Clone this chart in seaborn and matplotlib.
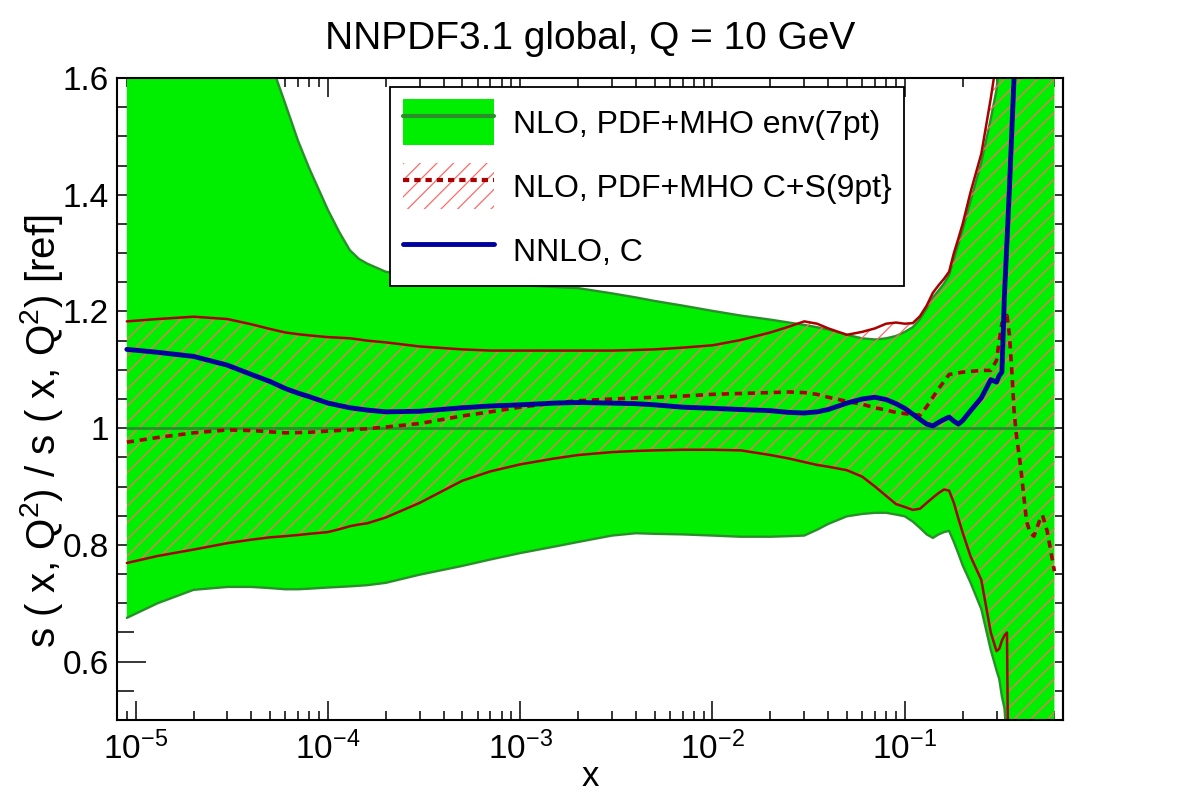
import matplotlib
matplotlib.use("Agg")
import matplotlib.pyplot as plt
import seaborn as sns
from matplotlib.patches import Patch
from matplotlib.lines import Line2D
from matplotlib.ticker import MultipleLocator, FuncFormatter

# ---- data ----
# common x grid for the two uncertainty bands
x_band = [9e-6, 1.3e-5, 2e-5, 3e-5, 4e-5, 5e-5, 6e-5, 7e-5, 8e-5, 1e-4,
          1.15e-4, 1.3e-4, 1.45e-4, 1.6e-4, 2e-4, 3e-4, 5e-4, 7e-4, 1e-3, 1.5e-3, 2e-3, 3e-3,
          4e-3, 5e-3, 7e-3, 1e-2, 1.4e-2, 2e-2, 2.5e-2, 3e-2, 3.5e-2, 4e-2,
          5e-2, 6e-2, 7e-2, 8e-2, 9e-2, 0.1, 0.11, 0.12, 0.13, 0.14,
          0.15, 0.16, 0.17, 0.18, 0.19, 0.2, 0.22, 0.25, 0.28, 0.3,
          0.31, 0.32, 0.33, 0.34, 0.35, 0.37, 0.4, 0.45, 0.5, 0.55, 0.6]

# NLO, PDF+MHO env(7pt): upper / lower edge
env_hi = [2.4, 2.2, 2.0, 1.85, 1.72, 1.63, 1.556, 1.492, 1.445, 1.374,
          1.335, 1.305, 1.29, 1.282, 1.268, 1.26, 1.253, 1.249, 1.245, 1.242, 1.24, 1.231,
          1.224, 1.218, 1.21, 1.201, 1.193, 1.186, 1.181, 1.177, 1.173, 1.169,
          1.16, 1.154, 1.152, 1.154, 1.158, 1.165, 1.173, 1.187, 1.205, 1.224,
          1.236, 1.248, 1.262, 1.29, 1.315, 1.34, 1.39, 1.455, 1.53, 1.58,
          1.63, 1.7, 1.8, 1.9, 2.0, 2.1, 2.2, 2.3, 2.4, 2.5, 2.6]
env_lo = [0.675, 0.70, 0.723, 0.728, 0.728, 0.726, 0.724, 0.724, 0.725, 0.727,
          0.728, 0.729, 0.73, 0.731, 0.735, 0.749, 0.764, 0.775, 0.786, 0.797, 0.805, 0.816,
          0.82, 0.819, 0.818, 0.816, 0.814, 0.814, 0.815, 0.816, 0.826, 0.836,
          0.849, 0.853, 0.855, 0.855, 0.852, 0.849, 0.84, 0.829, 0.818, 0.812,
          0.818, 0.822, 0.824, 0.805, 0.785, 0.765, 0.735, 0.69, 0.62, 0.585,
          0.57, 0.54, 0.52, 0.46, 0.42, 0.35, 0.3, 0.25, 0.2, 0.2, 0.2]

# NLO, PDF+MHO C+S(9pt): upper / lower edge
cs_hi = [1.183, 1.187, 1.191, 1.187, 1.178, 1.17, 1.164, 1.161, 1.159, 1.156,
         1.155, 1.154, 1.152, 1.15, 1.147, 1.14, 1.135, 1.133, 1.133, 1.133, 1.133, 1.133,
         1.134, 1.135, 1.138, 1.142, 1.151, 1.164, 1.174, 1.183, 1.179, 1.171,
         1.16, 1.165, 1.171, 1.179, 1.181, 1.179, 1.18, 1.192, 1.21, 1.232,
         1.245, 1.256, 1.268, 1.30, 1.325, 1.35, 1.405, 1.47, 1.565, 1.63,
         1.7, 1.8, 1.9, 2.0, 2.1, 2.2, 2.3, 2.4, 2.5, 2.6, 2.7]
cs_lo = [0.769, 0.781, 0.792, 0.803, 0.809, 0.813, 0.815, 0.817, 0.819, 0.822,
         0.827, 0.832, 0.835, 0.837, 0.847, 0.872, 0.91, 0.926, 0.938, 0.948, 0.954, 0.959,
         0.961, 0.962, 0.963, 0.963, 0.962, 0.954, 0.948, 0.942, 0.937, 0.934,
         0.928, 0.917, 0.9, 0.884, 0.87, 0.865, 0.86, 0.862, 0.872, 0.881,
         0.889, 0.895, 0.893, 0.872, 0.845, 0.821, 0.78, 0.74, 0.65, 0.618,
         0.622, 0.636, 0.645, 0.65, 0.2, 0.1, 0.1, 0.1, 0.1, 0.1, 0.1]

# NLO C+S(9pt) central value (dashed)
x_cs = [9e-6, 1.3e-5, 2e-5, 3e-5, 4e-5, 6e-5, 8e-5, 1e-4, 1.6e-4, 2e-4,
        3e-4, 5e-4, 7e-4, 1e-3, 1.5e-3, 2e-3, 3e-3, 5e-3, 7e-3, 1e-2,
        2e-2, 2.5e-2, 3e-2, 3.5e-2, 4e-2, 5e-2, 6e-2, 7e-2, 8e-2, 9e-2,
        0.1, 0.12, 0.13, 0.14, 0.15, 0.16, 0.17, 0.2, 0.25, 0.28, 0.3,
        0.31, 0.32, 0.34, 0.35, 0.36, 0.37, 0.38, 0.4, 0.43, 0.45,
        0.47, 0.5, 0.52, 0.55, 0.6]
cs_mid = [0.976, 0.984, 0.992, 0.997, 0.996, 0.992, 0.993, 0.995, 0.999, 1.002,
          1.008, 1.021, 1.028, 1.036, 1.043, 1.047, 1.05, 1.053, 1.055, 1.058,
          1.061, 1.062, 1.061, 1.058, 1.053, 1.046, 1.041, 1.035, 1.031, 1.027,
          1.025, 1.022, 1.037, 1.053, 1.068, 1.08, 1.092, 1.096, 1.099, 1.099, 1.116,
          1.15, 1.18, 1.193, 1.16, 1.1, 1.03, 0.99, 0.935, 0.84, 0.82,
          0.815, 0.84, 0.851, 0.824, 0.755]

# NNLO, C
x_nnlo = [9e-6, 1.3e-5, 2e-5, 3e-5, 4e-5, 5e-5, 6e-5, 7e-5, 8e-5, 1e-4,
          1.3e-4, 1.6e-4, 2e-4, 3e-4, 5e-4, 7e-4, 1e-3, 1.5e-3, 2e-3, 3e-3,
          4e-3, 5e-3, 7e-3, 1e-2, 1.4e-2, 2e-2, 2.5e-2, 3e-2, 3.5e-2, 4e-2,
          5e-2, 6e-2, 7e-2, 8e-2, 9e-2, 0.1, 0.11, 0.12, 0.13, 0.14,
          0.15, 0.16, 0.17, 0.18, 0.19, 0.2, 0.22, 0.25, 0.28, 0.3,
          0.31, 0.32, 0.33, 0.34, 0.35, 0.37, 0.4]
nnlo_c = [1.135, 1.13, 1.123, 1.108, 1.092, 1.08, 1.068, 1.06, 1.054, 1.043,
          1.035, 1.031, 1.028, 1.029, 1.035, 1.038, 1.04, 1.043, 1.044, 1.043,
          1.042, 1.04, 1.036, 1.034, 1.032, 1.03, 1.027, 1.026, 1.028, 1.032,
          1.043, 1.05, 1.053, 1.049, 1.042, 1.034, 1.024, 1.015, 1.007, 1.004,
          1.01, 1.015, 1.019, 1.012, 1.007, 1.013, 1.03, 1.052, 1.083, 1.079,
          1.09, 1.096, 1.23, 1.32, 1.41, 1.6, 1.9]

# reference (ratio to itself)
ref_x = [9e-6, 0.6]
ref_y = [1.0, 1.0]

# ---- style ----
sns.set_theme(style="ticks")
plt.rcParams['font.family'] = ['Liberation Sans', 'DejaVu Sans']
plt.rcParams['mathtext.default'] = 'regular'
plt.rcParams['hatch.linewidth'] = 0.9
plt.rcParams['axes.linewidth'] = 1.5
for key in ['text.color', 'axes.labelcolor', 'xtick.color', 'ytick.color']:
    plt.rcParams[key] = 'black'

GREEN = '#00ee00'
DGREEN = '#2a8f2a'
DRED = '#aa0000'
HATCH = '#ff6a6a'
BLUE = '#00009c'

fig = plt.figure(figsize=(11.82, 8), dpi=100)
ax = fig.add_axes([117 / 1182, 80 / 800, 946 / 1182, 642 / 800])
ax.set_xscale('log')

# green envelope band
ax.fill_between(x_band, env_lo, env_hi, facecolor=GREEN, edgecolor='none', zorder=1)
sns.lineplot(x=x_band, y=env_hi, ax=ax, color=DGREEN, lw=1.7, zorder=2, legend=False)
sns.lineplot(x=x_band, y=env_lo, ax=ax, color=DGREEN, lw=1.7, zorder=2, legend=False)

# hatched C+S band
ax.fill_between(x_band, cs_lo, cs_hi, facecolor='none', edgecolor=HATCH,
                hatch='//', linewidth=0, zorder=3)
sns.lineplot(x=x_band, y=cs_hi, ax=ax, color=DRED, lw=1.8, zorder=4, legend=False)
sns.lineplot(x=x_band, y=cs_lo, ax=ax, color=DRED, lw=1.8, zorder=4, legend=False)

# central lines
ax.plot(ref_x, ref_y, color=DGREEN, lw=2.0, zorder=5)
ax.plot(x_cs, cs_mid, color=DRED, lw=2.6, linestyle=(0, (2, 1.6)), zorder=6)
sns.lineplot(x=x_nnlo, y=nnlo_c, ax=ax, color=BLUE, lw=3.5, zorder=7, legend=False)

# ---- axes ----
ax.set_xlim(8e-6, 0.665)
ax.set_ylim(0.5, 1.6)
ax.set_axisbelow(True)
for sp in ax.spines.values():
    sp.set_zorder(10)
    sp.set_linewidth(1.5)
    sp.set_color('black')

ax.yaxis.set_major_locator(MultipleLocator(0.2))
ax.yaxis.set_minor_locator(MultipleLocator(0.05))
ax.yaxis.set_major_formatter(FuncFormatter(lambda v, p: f"{v:g}"))

ax.tick_params(axis='x', which='major', direction='in', length=14, width=1.1,
               top=True, bottom=True, labelsize=24, pad=8, colors='black')
ax.tick_params(axis='x', which='minor', direction='in', length=6.5, width=1.1,
               top=True, bottom=True, colors='black')
ax.tick_params(axis='y', which='major', direction='in', length=21, width=1.1,
               left=True, right=False, labelsize=24, pad=6, colors='black')
ax.tick_params(axis='y', which='minor', direction='in', length=12, width=1.1,
               left=True, right=False, colors='black')

# right-hand ticks are short on both levels
sec = ax.secondary_yaxis('right')
sec.yaxis.set_major_locator(MultipleLocator(0.2))
sec.yaxis.set_minor_locator(MultipleLocator(0.05))
sec.tick_params(which='both', direction='in', length=6, width=1.1, labelright=False,
                colors='black')
sec.spines['right'].set_linewidth(1.5)

ax.set_xlabel("x", fontsize=25, labelpad=-4)
ax.set_ylabel("s ( x, Q$^2$) / s ( x, Q$^2$) [ref]", fontsize=29)
ax.yaxis.set_label_coords(-0.055, 0.45)
ax.set_title("NNPDF3.1 global, Q = 10 GeV", fontsize=28, pad=21)

# ---- legend ----
h_env = (Patch(facecolor=GREEN, edgecolor='none'), Line2D([], [], color=DGREEN, lw=3))
h_cs = (Patch(facecolor='white', edgecolor=HATCH, hatch='//', linewidth=0),
        Line2D([], [], color=DRED, lw=3, linestyle=(0, (1.5, 1.2))))
h_nnlo = Line2D([], [], color=BLUE, lw=3.5)
leg = ax.legend([h_env, h_cs, h_nnlo],
                ["NLO, PDF+MHO env(7pt)", "NLO, PDF+MHO C+S(9pt}", "NNLO, C"],
                loc='upper left', bbox_to_anchor=(0.289, 0.986), borderaxespad=0,
                fontsize=23, frameon=True, fancybox=False, framealpha=1,
                edgecolor='black', handlelength=2.87, handleheight=1.85,
                labelspacing=0.56, handletextpad=0.6, borderpad=0.38)
leg.get_frame().set_linewidth(1.3)
leg.set_zorder(20)

fig.savefig("out.png", dpi=100)
